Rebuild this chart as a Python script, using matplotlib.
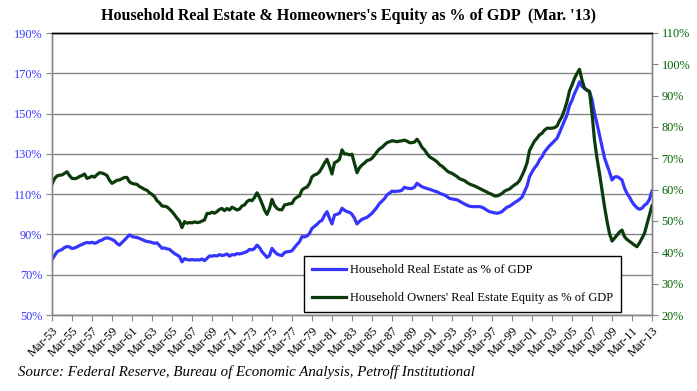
import matplotlib
matplotlib.use('Agg')
import matplotlib.pyplot as plt
from matplotlib.lines import Line2D

# quarterly values, Mar-53 .. Mar-13 (one row per year, Q1..Q4)
real_estate = [
    77.5, 79.5, 81.4, 82.0,   # 1953
    82.5, 83.5, 84.0, 83.8,   # 1954
    83.0, 83.3, 83.8, 84.5,   # 1955
    85.0, 85.6, 86.0, 85.8,   # 1956
    86.1, 85.6, 86.0, 86.8,   # 1957
    87.2, 88.0, 88.3, 88.0,   # 1958
    87.5, 86.8, 85.5, 84.7,   # 1959
    86.0, 87.2, 88.5, 89.8,   # 1960
    89.0, 88.6, 88.5, 88.0,   # 1961
    87.5, 86.9, 86.5, 86.3,   # 1962
    86.0, 85.6, 85.8, 84.5,   # 1963
    83.1, 83.3, 82.8, 82.6,   # 1964
    81.5, 80.5, 79.8, 79.0,   # 1965
    76.4, 78.0, 77.5, 77.3,   # 1966
    77.5, 77.3, 77.4, 77.3,   # 1967
    77.8, 77.0, 78.1, 79.3,   # 1968
    79.2, 79.5, 79.3, 80.0,   # 1969
    79.5, 79.8, 80.3, 79.2,   # 1970
    80.0, 79.8, 80.5, 80.3,   # 1971
    80.6, 81.0, 81.5, 82.6,   # 1972
    82.3, 83.0, 84.7, 83.5,   # 1973
    81.4, 80.0, 78.6, 79.5,   # 1974
    83.1, 81.5, 80.3, 79.8,   # 1975
    79.5, 81.0, 81.4, 81.5,   # 1976
    81.9, 83.5, 85.0, 86.4,   # 1977
    88.9, 88.8, 89.2, 90.5,   # 1978
    93.0, 94.0, 95.0, 96.3,   # 1979
    97.0, 99.5, 101.3, 98.0,  # 1980
    95.2, 99.6, 100.0, 100.5, # 1981
    103.0, 102.0, 101.3, 101.0,  # 1982
    100.0, 98.0, 95.2, 96.5,  # 1983
    97.5, 98.0, 98.5, 99.5,   # 1984
    100.5, 102.0, 103.5, 105.4,  # 1985
    106.5, 107.8, 109.6, 110.5,  # 1986
    111.5, 111.3, 111.5, 111.5,  # 1987
    112.0, 113.4, 113.0, 112.8,  # 1988
    112.8, 113.5, 115.4, 114.5,  # 1989
    113.7, 113.2, 112.8, 112.4,  # 1990
    112.0, 111.5, 111.2, 110.5,  # 1991
    110.0, 109.6, 108.8, 107.9,  # 1992
    107.6, 107.4, 107.2, 106.5,  # 1993
    105.8, 105.1, 104.5, 104.0,  # 1994
    103.8, 103.8, 103.8, 103.8,  # 1995
    103.5, 102.8, 102.0, 101.3,  # 1996
    101.0, 100.7, 100.5, 100.8,  # 1997
    101.3, 102.5, 103.5, 104.0,  # 1998
    104.8, 105.8, 106.5, 107.4,  # 1999
    108.5, 111.2, 114.0, 118.7,  # 2000
    121.0, 123.0, 124.5, 127.0,  # 2001
    128.5, 131.0, 132.5, 134.0,  # 2002
    135.2, 136.5, 137.7, 140.5,  # 2003
    143.5, 146.5, 149.3, 154.0,  # 2004
    156.5, 160.0, 162.5, 165.8,  # 2005
    163.5, 162.5, 161.5, 160.9,  # 2006
    157.0, 150.1, 145.0, 139.4,  # 2007
    134.0, 128.0, 124.5, 121.0,  # 2008
    117.0, 118.5, 118.7, 118.0,  # 2009
    117.0, 113.0, 110.4, 108.5,  # 2010
    106.2, 104.5, 103.2, 102.5,  # 2011
    103.0, 104.5, 105.4, 107.5,  # 2012
    111.5,                       # 2013
]

owners_equity = [
    61.8, 63.5, 64.4, 64.6,   # 1953
    64.7, 65.2, 65.7, 64.5,   # 1954
    63.6, 63.5, 63.7, 64.2,   # 1955
    64.5, 65.0, 63.6, 63.9,   # 1956
    64.3, 64.0, 64.8, 65.4,   # 1957
    65.3, 65.0, 64.5, 63.0,   # 1958
    62.0, 62.5, 63.0, 63.1,   # 1959
    63.5, 63.9, 63.9, 62.5,   # 1960
    62.0, 61.8, 61.7, 61.0,   # 1961
    60.6, 60.1, 59.8, 59.0,   # 1962
    58.5, 57.8, 56.5, 55.8,   # 1963
    54.8, 54.7, 54.5, 53.8,   # 1964
    53.0, 52.0, 50.9, 50.0,   # 1965
    47.9, 49.8, 49.3, 49.5,   # 1966
    49.4, 49.7, 49.5, 49.6,   # 1967
    50.0, 50.3, 52.4, 52.4,   # 1968
    52.8, 52.5, 53.0, 53.7,   # 1969
    54.0, 53.3, 54.0, 53.5,   # 1970
    54.4, 54.0, 53.5, 53.8,   # 1971
    54.8, 55.1, 56.2, 56.7,   # 1972
    56.5, 57.5, 59.0, 57.5,   # 1973
    55.6, 53.5, 52.1, 54.0,   # 1974
    56.9, 55.0, 54.0, 53.6,   # 1975
    53.6, 55.1, 55.3, 55.5,   # 1976
    55.6, 57.0, 57.6, 58.0,   # 1977
    59.9, 60.5, 60.8, 62.0,   # 1978
    64.1, 64.7, 65.0, 65.7,   # 1979
    67.0, 68.5, 69.7, 67.5,   # 1980
    65.0, 68.6, 69.0, 69.7,   # 1981
    72.7, 71.4, 71.4, 71.1,   # 1982
    71.3, 68.4, 65.4, 67.0,   # 1983
    67.9, 68.5, 69.3, 69.5,   # 1984
    70.0, 71.0, 72.1, 73.0,   # 1985
    73.5, 74.3, 75.0, 75.3,   # 1986
    75.6, 75.5, 75.3, 75.5,   # 1987
    75.6, 75.8, 75.5, 75.0,   # 1988
    75.0, 75.2, 76.1, 75.0,   # 1989
    73.5, 72.7, 71.5, 70.5,   # 1990
    70.0, 69.5, 68.9, 68.0,   # 1991
    67.5, 66.8, 66.0, 65.5,   # 1992
    65.2, 64.7, 64.2, 63.5,   # 1993
    63.2, 62.9, 62.3, 61.8,   # 1994
    61.5, 61.2, 60.8, 60.4,   # 1995
    60.0, 59.6, 59.2, 58.8,   # 1996
    58.5, 58.0, 58.0, 58.3,   # 1997
    58.8, 59.5, 59.9, 60.2,   # 1998
    60.9, 61.5, 62.0, 62.9,   # 1999
    64.5, 66.3, 68.5, 72.5,   # 2000
    74.0, 75.5, 76.4, 77.5,   # 2001
    78.0, 79.0, 79.6, 79.6,   # 2002
    79.6, 79.8, 80.3, 82.0,   # 2003
    83.3, 85.5, 88.1, 91.5,   # 2004
    93.4, 95.5, 97.1, 98.4,   # 2005
    95.0, 92.4, 91.8, 91.3,   # 2006
    84.4, 75.8, 70.0, 65.2,   # 2007
    60.0, 54.6, 50.0, 46.0,   # 2008
    43.6, 44.5, 45.5, 46.5,   # 2009
    47.1, 45.0, 44.1, 43.5,   # 2010
    42.9, 42.3, 41.8, 43.0,   # 2011
    44.5, 46.1, 49.0, 52.0,   # 2012
    54.9,                     # 2013
]

tick_labels = ['Mar-53', 'Mar-55', 'Mar-57', 'Mar-59', 'Mar-61', 'Mar-63', 'Mar-65',
               'Mar-67', 'Mar-69', 'Mar-71', 'Mar-73', 'Mar-75', 'Mar-77', 'Mar-79',
               'Mar-81', 'Mar-83', 'Mar-85', 'Mar-87', 'Mar-89', 'Mar-91', 'Mar-93',
               'Mar-95', 'Mar-97', 'Mar-99', 'Mar-01', 'Mar-03', 'Mar-05', 'Mar-07',
               'Mar-09', 'Mar-11', 'Mar-13']

BLUE = '#3535FF'
GREEN = '#0B3B0B'
GRID = '#868686'
serif = 'Liberation Serif'

fig = plt.figure(figsize=(6.97, 3.91), dpi=100)
ax = fig.add_axes([52/697, 1-315/391, 600/697, 282/391])
ax2 = ax.twinx()

x = list(range(len(real_estate)))
ax.plot(x, real_estate, color=BLUE, lw=2.3, solid_joinstyle='round')
ax2.plot(x, owners_equity, color=GREEN, lw=2.3, solid_joinstyle='round')

ax.set_xlim(0, len(real_estate) - 1)
ax.set_ylim(50, 190)
ax2.set_ylim(20, 110)

ax.set_yticks(range(50, 191, 20))
ax.set_yticklabels(['%d%%' % v for v in range(50, 191, 20)])
ax2.set_yticks(range(20, 111, 10))
ax2.set_yticklabels(['%d%%' % v for v in range(20, 111, 10)])
ax.set_xticks(range(0, len(real_estate), 8))
ax.set_xticklabels(tick_labels, rotation=45, ha='right', va='top',
                   rotation_mode='anchor', fontsize=8.8, family=serif)

ax.grid(axis='y', color=GRID, lw=1)
ax.set_axisbelow(True)

for a in (ax, ax2):
    for s in ('left', 'right', 'bottom'):
        a.spines[s].set_color(GRID)
        a.spines[s].set_linewidth(1)
    a.spines['top'].set_color('black')
    a.spines['top'].set_linewidth(1)

ax.tick_params(axis='y', colors=GRID, labelcolor=BLUE, labelsize=8.8, length=4, pad=3)
ax2.tick_params(axis='y', colors=GRID, labelcolor='#006400', labelsize=8.8, length=4, pad=3)
ax.tick_params(axis='x', colors=GRID, labelcolor='black', length=4, pad=3)
for lab in ax.get_yticklabels() + ax2.get_yticklabels():
    lab.set_family(serif)

handles = [Line2D([], [], color=BLUE, lw=2.3), Line2D([], [], color=GREEN, lw=2.3)]
leg = ax2.legend(handles, ['Household Real Estate as % of GDP',
                           "Household Owners' Real Estate Equity as % of GDP"],
                 loc='lower left', bbox_to_anchor=(0.42, 0.01), fancybox=False,
                 framealpha=1, edgecolor='black', prop={'family': serif, 'size': 9.0},
                 handlelength=2.7, handletextpad=0.3, labelspacing=1.25,
                 borderpad=0.65, borderaxespad=0)
leg.get_frame().set_linewidth(1)

fig.text(0.5, 1 - 16/391, "Household Real Estate & Homeowners's Equity as % of GDP  (Mar. '13)",
         ha='center', va='center', fontsize=11.5, fontweight='bold', family=serif)
fig.text(18/697, 1 - 372/391,
         'Source: Federal Reserve, Bureau of Economic Analysis, Petroff Institutional',
         ha='left', va='center', fontsize=10.7, style='italic', family=serif)

fig.savefig('out.png', dpi=100)
